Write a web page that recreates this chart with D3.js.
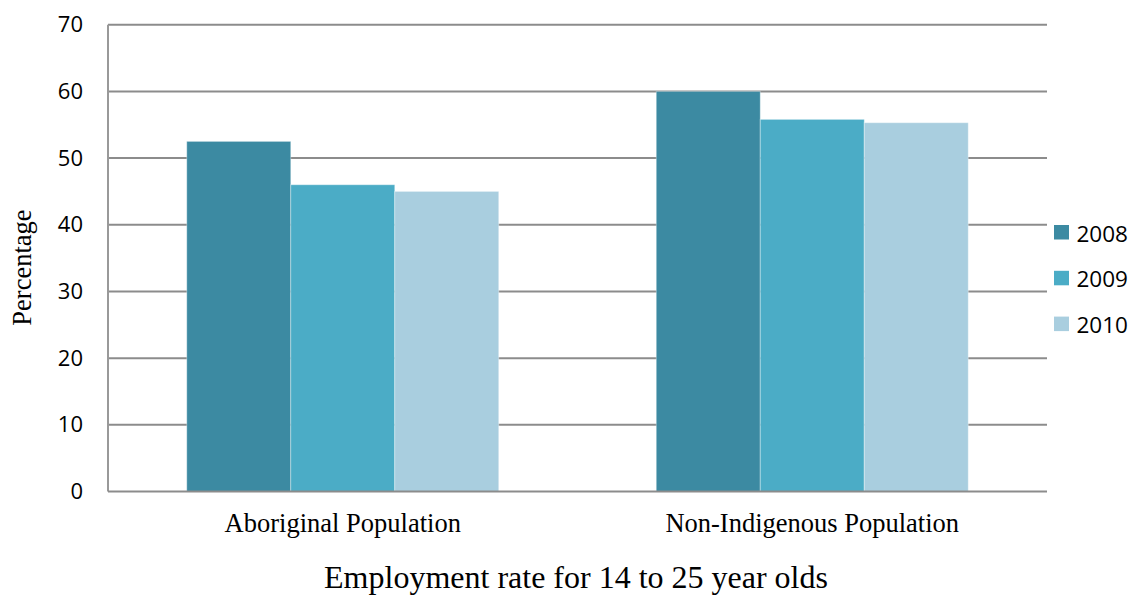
<!DOCTYPE html>
<html>
<head>
<meta charset="utf-8">
<script src="https://cdn.jsdelivr.net/npm/d3@7"></script>
<style>
  html, body { margin: 0; padding: 0; background: #fff; }
  svg { display: block; }
</style>
</head>
<body>
<svg id="chart" width="1133" height="595"></svg>
<script>
// Employment rate (%) of 14–25 year olds by population group and year
const categories = ["Aboriginal Population", "Non-Indigenous Population"];
const years = ["2008", "2009", "2010"];
const values2008 = [52.5, 60.0];
const values2009 = [46.0, 55.8];
const values2010 = [45.0, 55.3];
const yTicks = [0, 10, 20, 30, 40, 50, 60, 70];
const colors = ["#3c8aa2", "#4bacc6", "#a9cedf"];

const series = [values2008, values2009, values2010];

const width = 1133, height = 595;
const margin = { top: 24.7, right: 86, bottom: 103.5, left: 108 };
const innerW = width - margin.left - margin.right;
const innerH = height - margin.top - margin.bottom;

const serif = "'Liberation Serif', 'Times New Roman', serif";
const sans = "'Open Sans', sans-serif";

const svg = d3.select("#chart");
const g = svg.append("g").attr("transform", `translate(${margin.left},${margin.top})`);

const x0 = d3.scaleBand()
  .domain(categories)
  .range([0, innerW])
  .paddingInner(0.3355)
  .paddingOuter(0.3355 / 2);

const x1 = d3.scaleBand()
  .domain(years)
  .range([0, x0.bandwidth()])
  .padding(0);

const y = d3.scaleLinear().domain([0, 70]).range([innerH, 0]);

// Horizontal gridlines
g.append("g")
  .selectAll("line")
  .data(yTicks.filter(d => d > 0))
  .join("line")
  .attr("x1", 0)
  .attr("x2", innerW)
  .attr("y1", d => y(d))
  .attr("y2", d => y(d))
  .attr("stroke", "#8c8c8c")
  .attr("stroke-width", 2);

// Y axis tick labels
const yAxis = d3.axisLeft(y).tickValues(yTicks).tickSize(0).tickPadding(25);
const yg = g.append("g").call(yAxis);
yg.select(".domain").remove();
yg.selectAll("text")
  .attr("font-family", sans)
  .attr("font-size", 22)
  .attr("fill", "#000");

// Bars
const groups = g.append("g")
  .selectAll("g")
  .data(categories)
  .join("g")
  .attr("transform", d => `translate(${x0(d)},0)`);

groups.selectAll("rect")
  .data((c, i) => years.map((yr, k) => ({ year: yr, value: series[k][i], k })))
  .join("rect")
  .attr("x", d => x1(d.year))
  .attr("y", d => y(d.value))
  .attr("width", x1.bandwidth())
  .attr("height", d => innerH - y(d.value))
  .attr("fill", d => colors[d.k])
  .attr("stroke", "rgba(255,255,255,0.35)")
  .attr("stroke-width", 1);

// Axis lines (left and bottom)
g.append("line")
  .attr("x1", 0).attr("x2", 0)
  .attr("y1", 0).attr("y2", innerH)
  .attr("stroke", "#999").attr("stroke-width", 2);
g.append("line")
  .attr("x1", 0).attr("x2", innerW)
  .attr("y1", innerH).attr("y2", innerH)
  .attr("stroke", "#8c8c8c").attr("stroke-width", 2);

// Category labels
const xAxis = d3.axisBottom(x0).tickSize(0).tickPadding(0);
const xg = g.append("g").attr("transform", `translate(0,${innerH})`).call(xAxis);
xg.select(".domain").remove();
xg.selectAll("text")
  .attr("dy", null)
  .attr("y", 40)
  .attr("font-family", serif)
  .attr("font-size", 26.5)
  .attr("fill", "#000");

// Y axis title
svg.append("text")
  .attr("transform", `translate(31,267.5) rotate(-90)`)
  .attr("text-anchor", "middle")
  .attr("font-family", serif)
  .attr("font-size", 26.5)
  .attr("fill", "#000")
  .text("Percentage");

// Chart title below
svg.append("text")
  .attr("x", 576)
  .attr("y", 588)
  .attr("text-anchor", "middle")
  .attr("font-family", serif)
  .attr("font-size", 32)
  .attr("fill", "#000")
  .text("Employment rate for 14 to 25 year olds");

// Legend
const legend = svg.append("g").attr("transform", "translate(1054,225)");
const li = legend.selectAll("g")
  .data(years)
  .join("g")
  .attr("transform", (d, i) => `translate(0,${i * 45.8})`);
li.append("rect")
  .attr("width", 15).attr("height", 14.5)
  .attr("fill", (d, i) => colors[i]);
li.append("text")
  .attr("x", 22.5)
  .attr("y", 16.5)
  .attr("font-family", sans)
  .attr("font-size", 22.5)
  .attr("fill", "#000")
  .text(d => d);
</script>
</body>
</html>
